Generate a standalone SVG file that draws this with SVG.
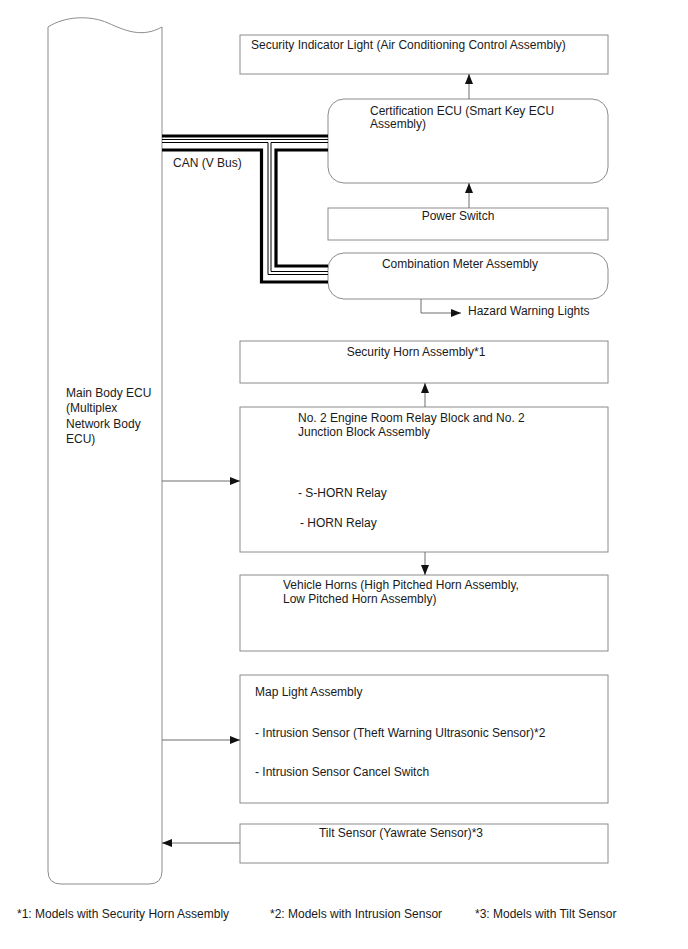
<svg xmlns="http://www.w3.org/2000/svg" width="688" height="949" viewBox="0 0 688 949">
<style>
.box{fill:#fff;stroke:#8c8c8c;stroke-width:1}
.t{font-family:"Liberation Sans",Arial,sans-serif;font-size:12px;fill:#1a1a1a}
.c{text-anchor:middle}
.ln{fill:none;stroke:#6e6e6e;stroke-width:1}
.thick{fill:none;stroke:#000;stroke-width:3.2}
.thin{fill:none;stroke:#000;stroke-width:1}
</style>
<defs>
<marker id="ah" viewBox="0 0 10 8" refX="10" refY="4" markerWidth="10" markerHeight="8" markerUnits="userSpaceOnUse" orient="auto">
<path d="M0,0 L10,4 L0,8 Z" fill="#111"/>
</marker>
</defs>
<rect width="688" height="949" fill="#fff"/>

<g id="main-ecu">
<path class="box" d="M48,27 C65,16 90,15 108,23 C126,31 142,38 162,27 V871 Q162,884 149,884 H61 Q48,884 48,871 Z"/>
<text class="t" x="66" y="397">Main Body ECU</text>
<text class="t" x="66" y="412">(Multiplex</text>
<text class="t" x="66" y="428">Network Body</text>
<text class="t" x="66" y="443">ECU)</text>
</g>

<g id="security-indicator">
<rect class="box" x="240" y="35" width="368" height="39"/>
<text class="t" x="251" y="49">Security Indicator Light (Air Conditioning Control Assembly)</text>
</g>

<g id="certification-ecu">
<rect class="box" x="328" y="99" width="280" height="84" rx="16" ry="16"/>
<text class="t" x="370" y="115">Certification ECU (Smart Key ECU</text>
<text class="t" x="370" y="128">Assembly)</text>
</g>

<g id="power-switch">
<rect class="box" x="328" y="208" width="280" height="32"/>
<text class="t c" x="458" y="220">Power Switch</text>
</g>

<g id="combination-meter">
<rect class="box" x="328" y="253" width="280" height="46" rx="16" ry="16"/>
<text class="t c" x="460" y="268">Combination Meter Assembly</text>
</g>

<g id="hazard">
<text class="t" x="468" y="315">Hazard Warning Lights</text>
</g>

<g id="security-horn">
<rect class="box" x="240" y="341" width="368" height="42"/>
<text class="t c" x="416" y="356">Security Horn Assembly*1</text>
</g>

<g id="relay-block">
<rect class="box" x="240" y="407" width="368" height="145"/>
<text class="t" x="298" y="422">No. 2 Engine Room Relay Block and No. 2</text>
<text class="t" x="298" y="436">Junction Block Assembly</text>
<text class="t" x="298" y="497">- S-HORN Relay</text>
<text class="t" x="300" y="527">- HORN Relay</text>
</g>

<g id="vehicle-horns">
<rect class="box" x="240" y="575" width="368" height="76"/>
<text class="t" x="283" y="589">Vehicle Horns (High Pitched Horn Assembly,</text>
<text class="t" x="283" y="603">Low Pitched Horn Assembly)</text>
</g>

<g id="map-light">
<rect class="box" x="240" y="675" width="368" height="128"/>
<text class="t" x="255" y="696">Map Light Assembly</text>
<text class="t" x="255" y="737">- Intrusion Sensor (Theft Warning Ultrasonic Sensor)*2</text>
<text class="t" x="255" y="776">- Intrusion Sensor Cancel Switch</text>
</g>

<g id="tilt-sensor">
<rect class="box" x="240" y="824" width="368" height="39"/>
<text class="t c" x="401" y="837">Tilt Sensor (Yawrate Sensor)*3</text>
</g>

<g id="connectors">
<path class="thick" d="M162,136 H328"/>
<path class="thin" d="M162,139.5 H328"/>
<path class="thin" d="M162,142.5 H268 V274.5 H328"/>
<path class="thin" d="M328,142.5 H271 V271.5 H328"/>
<path class="thick" d="M162,150 H261.5 V282 H328"/>
<path class="thick" d="M328,150 H276 V266 H328"/>
<text class="t" x="173" y="167">CAN (V Bus)</text>
<path class="ln" d="M469,99 V74" marker-end="url(#ah)"/>
<path class="ln" d="M469,208 V183" marker-end="url(#ah)"/>
<path class="ln" d="M421,299 V313 H461" marker-end="url(#ah)"/>
<path class="ln" d="M425,407 V383" marker-end="url(#ah)"/>
<path class="ln" d="M162,481 H240" marker-end="url(#ah)"/>
<path class="ln" d="M425,552 V575" marker-end="url(#ah)"/>
<path class="ln" d="M162,740 H240" marker-end="url(#ah)"/>
<path class="ln" d="M240,843 H162" marker-end="url(#ah)"/>
</g>

<g id="footnotes">
<text class="t" x="17" y="918">*1: Models with Security Horn Assembly</text>
<text class="t" x="270" y="918">*2: Models with Intrusion Sensor</text>
<text class="t" x="475" y="918">*3: Models with Tilt Sensor</text>
</g>
</svg>
